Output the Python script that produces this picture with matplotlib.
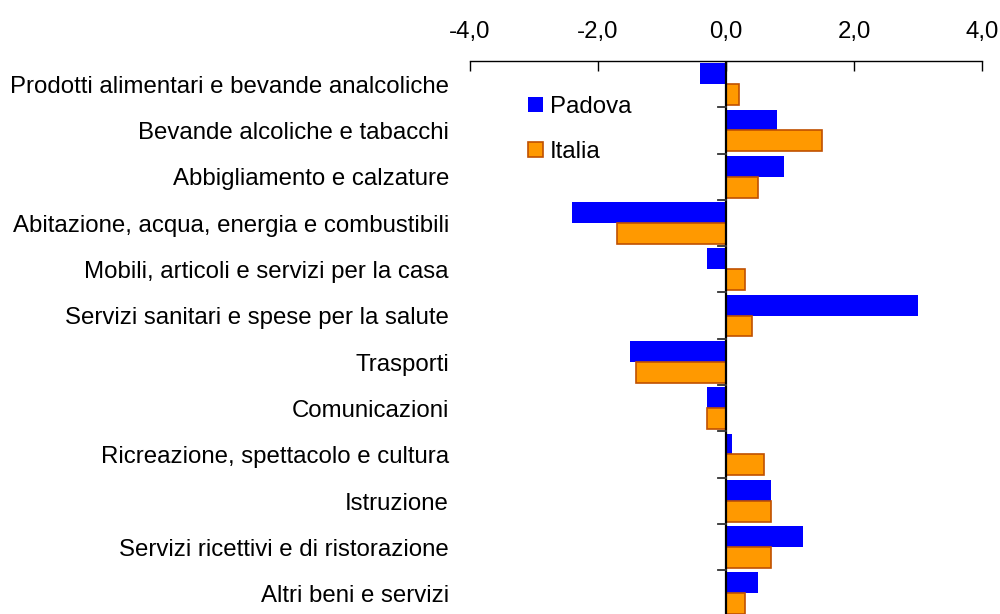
import matplotlib
matplotlib.use("Agg")
import matplotlib.pyplot as plt
from matplotlib.patches import Patch
import matplotlib.transforms as mtransforms
import numpy as np

plt.rcParams['font.family'] = ['Liberation Sans', 'DejaVu Sans']

categories = [
    "Prodotti alimentari e bevande analcoliche",
    "Bevande alcoliche e tabacchi",
    "Abbigliamento e calzature",
    "Abitazione, acqua, energia e combustibili",
    "Mobili, articoli e servizi per la casa",
    "Servizi sanitari e spese per la salute",
    "Trasporti",
    "Comunicazioni",
    "Ricreazione, spettacolo e cultura",
    "Istruzione",
    "Servizi ricettivi e di ristorazione",
    "Altri beni e servizi",
]
padova = [-0.4, 0.8, 0.9, -2.4, -0.3, 3.0, -1.5, -0.3, 0.1, 0.7, 1.2, 0.5]
italia = [0.2, 1.5, 0.5, -1.7, 0.3, 0.4, -1.4, -0.3, 0.6, 0.7, 0.7, 0.3]
series_names = ["Padova", "Italia"]
xticks = [-4.0, -2.0, 0.0, 2.0, 4.0]
xtick_labels = ["-4,0", "-2,0", "0,0", "2,0", "4,0"]

FS = 17.3

fig = plt.figure(figsize=(10, 6.14), dpi=100)
ax = fig.add_axes([0.47, -0.004, 0.512, 0.9047])

y = np.arange(len(categories))
h = 0.45
ax.barh(y - h / 2, padova, height=h, color="#0000FF", edgecolor="none", zorder=2)
ax.barh(y + h / 2, italia, height=h, color="#FF9900", edgecolor="#C05000", linewidth=1.2, zorder=2)

ax.set_xlim(-4, 4)
ax.set_ylim(len(categories) - 0.5, -0.5)

ax.xaxis.tick_top()
ax.set_xticks(xticks)
ax.set_xticklabels(xtick_labels, fontsize=FS)
ax.tick_params(axis="x", direction="in", length=7, width=1, pad=13, colors="black")
for s in ["left", "right", "bottom"]:
    ax.spines[s].set_visible(False)
ax.spines["top"].set_linewidth(1)

ax.axvline(0, color="black", linewidth=1.6, zorder=3)
ax.set_yticks([])
# category separator ticks on zero line
for b in np.arange(0.5, len(categories), 1.0):
    ax.plot([-0.12, 0], [b, b], color="#333333", linewidth=1.3, zorder=3, clip_on=False)

trans = mtransforms.blended_transform_factory(fig.transFigure, ax.transData)
for i, c in enumerate(categories):
    fig.text(0.449, i + 0.06, c, transform=trans, ha="right", va="center", fontsize=FS)

handles = [Patch(facecolor="#0000FF", edgecolor="none"),
           Patch(facecolor="#FF9900", edgecolor="#C05000", linewidth=1.2)]
leg = ax.legend(handles, series_names, loc="upper left", bbox_to_anchor=(0.113, 0.937),
                frameon=False, fontsize=FS, handlelength=0.62, handleheight=0.62,
                handletextpad=0.3, labelspacing=0.95, borderaxespad=0, borderpad=0)

fig.savefig("out.png", dpi=100)
